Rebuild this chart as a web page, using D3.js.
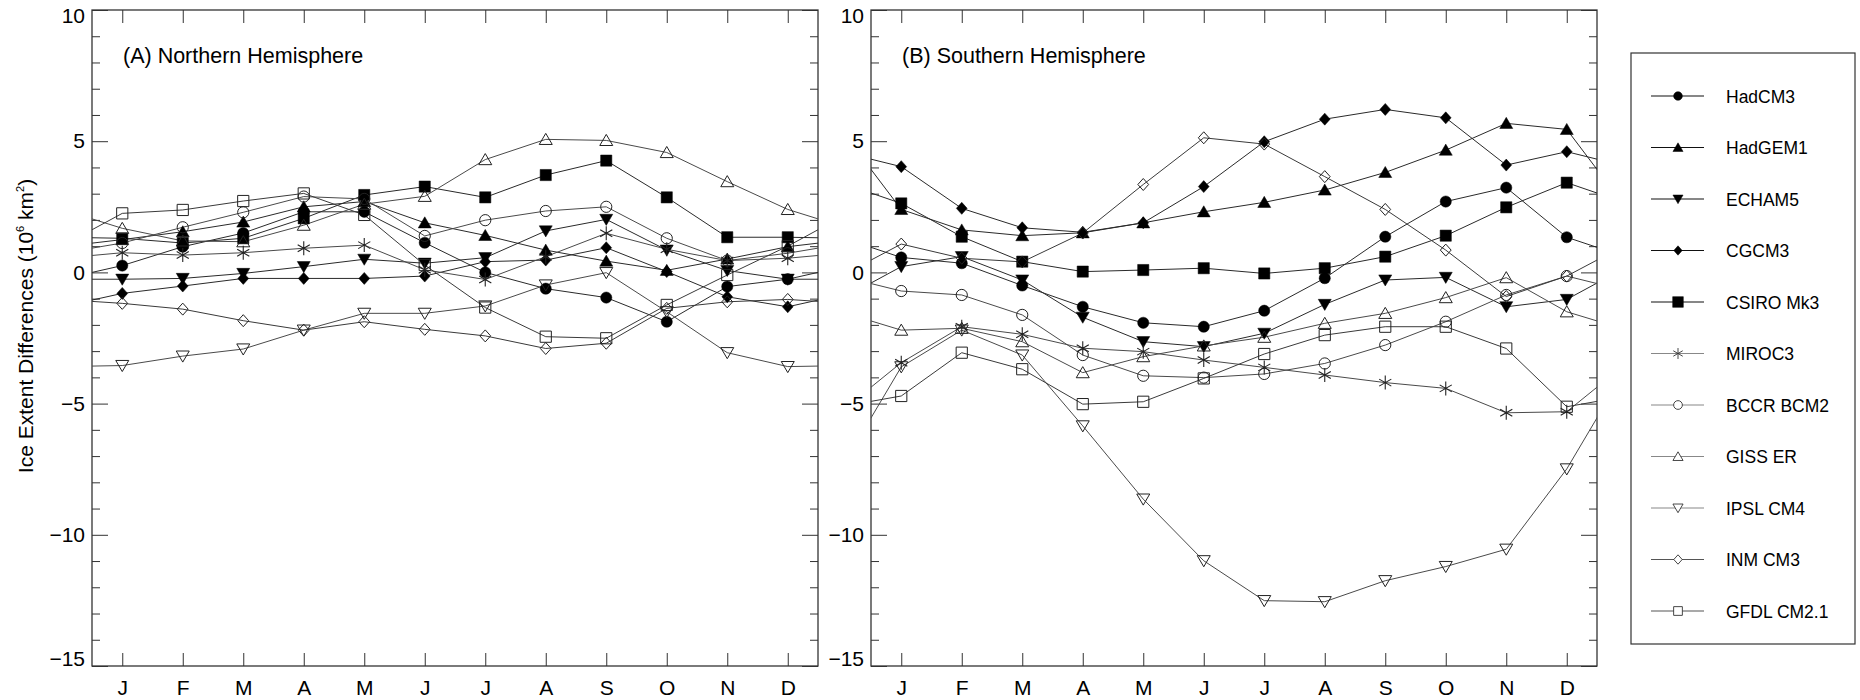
<!DOCTYPE html>
<html><head><meta charset="utf-8">
<script src="https://cdn.jsdelivr.net/npm/d3@7"></script>
<style>
body{margin:0;background:#fff}
text{font-family:"Liberation Sans",Arial,Helvetica,sans-serif;fill:#000}
</style>
</head><body>
<svg id="chart" width="1860" height="700"></svg>
<script>
// ---------- data ----------
const months = ["J","F","M","A","M","J","J","A","S","O","N","D"];
const models = ["HadCM3","HadGEM1","ECHAM5","CGCM3","CSIRO Mk3","MIROC3","BCCR BCM2","GISS ER","IPSL CM4","INM CM3","GFDL CM2.1"];
const yMajorTicks = [-15,-10,-5,0,5,10];
const panelTitles = ["(A) Northern Hemisphere","(B) Southern Hemisphere"];

// Northern Hemisphere (10^6 km^2), Jan..Dec
const nhHadCM3  = [0.26,0.98,1.5,2.31,2.31,1.13,0.0,-0.62,-0.96,-1.88,-0.54,-0.26];
const nhHadGEM1 = [1.25,1.55,1.92,2.5,2.7,1.89,1.41,0.85,0.43,0.08,0.51,0.98];
const nhECHAM5  = [-0.26,-0.23,-0.04,0.22,0.5,0.35,0.56,1.58,2.02,0.85,0.07,-0.26];
const nhCGCM3   = [-0.8,-0.52,-0.23,-0.23,-0.23,-0.14,0.41,0.47,0.94,0.03,-0.93,-1.31];
const nhCSIRO   = [1.3,1.12,1.3,2.06,2.95,3.27,2.86,3.71,4.26,2.86,1.34,1.34];
const nhMIROC3  = [0.75,0.66,0.75,0.92,1.04,0.1,-0.27,0.6,1.49,0.88,0.45,0.54];
const nhBCCR    = [1.12,1.72,2.29,2.89,2.8,1.39,1.99,2.34,2.5,1.3,0.45,0.73];
const nhGISS    = [1.68,1.2,1.17,1.8,2.6,2.9,4.3,5.07,5.03,4.57,3.46,2.4];
const nhIPSL    = [-3.55,-3.19,-2.92,-2.2,-1.56,-1.56,-1.28,-0.48,-0.01,-1.5,-3.06,-3.59];
const nhINM     = [-1.18,-1.4,-1.84,-2.2,-1.88,-2.17,-2.42,-2.9,-2.7,-1.37,-1.12,-1.03];
const nhGFDL    = [2.25,2.38,2.72,3.01,2.19,0.28,-1.34,-2.45,-2.51,-1.24,-0.1,1.0];

// Southern Hemisphere (10^6 km^2), Jan..Dec
const shHadCM3  = [0.57,0.35,-0.5,-1.31,-1.92,-2.07,-1.46,-0.22,1.36,2.7,3.23,1.34];
const shHadGEM1 = [2.4,1.62,1.4,1.51,1.89,2.31,2.67,3.14,3.81,4.66,5.68,5.45];
const shECHAM5  = [0.22,0.6,-0.29,-1.71,-2.64,-2.83,-2.32,-1.22,-0.29,-0.19,-1.31,-1.03];
const shCGCM3   = [4.03,2.44,1.7,1.53,1.89,3.27,4.98,5.84,6.21,5.89,4.09,4.6];
const shCSIRO   = [2.63,1.36,0.41,0.03,0.09,0.16,-0.04,0.16,0.6,1.4,2.48,3.42];
const shMIROC3  = [-3.44,-2.07,-2.36,-2.89,-3.02,-3.34,-3.62,-3.91,-4.2,-4.42,-5.35,-5.31];
const shBCCR    = [-0.71,-0.86,-1.62,-3.15,-3.94,-4.01,-3.87,-3.47,-2.77,-1.88,-0.86,-0.14];
const shGISS    = [-2.2,-2.13,-2.64,-3.82,-3.21,-2.8,-2.47,-1.94,-1.56,-0.96,-0.2,-1.5];
const shIPSL    = [-3.6,-2.2,-3.15,-5.85,-8.64,-10.99,-12.51,-12.55,-11.75,-11.21,-10.55,-7.49];
const shINM     = [1.08,0.54,0.4,1.5,3.35,5.13,4.89,3.65,2.4,0.85,-0.92,-0.14];
const shGFDL    = [-4.71,-3.06,-3.69,-5.02,-4.93,-4.04,-3.11,-2.39,-2.07,-2.07,-2.9,-5.12];

const nhSeries = [nhHadCM3,nhHadGEM1,nhECHAM5,nhCGCM3,nhCSIRO,nhMIROC3,nhBCCR,nhGISS,nhIPSL,nhINM,nhGFDL];
const shSeries = [shHadCM3,shHadGEM1,shECHAM5,shCGCM3,shCSIRO,shMIROC3,shBCCR,shGISS,shIPSL,shINM,shGFDL];

// ---------- styles ----------
const markerTypes = ["circle","triUp","triDown","diamond","square","asterisk","circle","triUp","triDown","diamond","square"];
const markerFilled = [true,true,true,true,true,false,false,false,false,false,false];
const lineColors = ["#2a2a2a","#2a2a2a","#2a2a2a","#2a2a2a","#2a2a2a","#4a4a4a","#4a4a4a","#4a4a4a","#4a4a4a","#3a3a3a","#3a3a3a"];
const legendLineColors = ["#111","#111","#111","#111","#111","#888","#888","#888","#888","#555","#555"];

function markerPath(type, s){
  if(type==="circle"){const r=5.6*s;return `M${-r},0A${r},${r} 0 1,0 ${r},0A${r},${r} 0 1,0 ${-r},0Z`;}
  if(type==="square"){const a=5.6*s;return `M${-a},${-a}H${a}V${a}H${-a}Z`;}
  if(type==="triUp"){const w=6.5*s,h=6*s;return `M0,${-h}L${w},${h*0.85}L${-w},${h*0.85}Z`;}
  if(type==="triDown"){const w=6.5*s,h=6*s;return `M0,${h}L${w},${-h*0.85}L${-w},${-h*0.85}Z`;}
  if(type==="diamond"){const w=5.4*s,h=6*s;return `M0,${-h}L${w},0L0,${h}L${-w},0Z`;}
  if(type==="asterisk"){const r=7*s;let p="";
    [90,30,150].forEach(a=>{const rad=a*Math.PI/180,dx=r*Math.cos(rad),dy=r*Math.sin(rad);
      p+=`M${-dx},${-dy}L${dx},${dy}`;});return p;}
}

const svg = d3.select("#chart");
const yTop = 10, yBot = 666;
const panels = [
  {x0:92, x1:818, data:nhSeries, title:panelTitles[0]},
  {x0:871, x1:1597, data:shSeries, title:panelTitles[1]}
];
const y = d3.scaleLinear().domain([-15,10]).range([yBot,yTop]);
const minorTicks = d3.range(-15,11,1).filter(v=>v%5!==0);

panels.forEach((p,pi)=>{
  const x = d3.scaleLinear().domain([0.5,12.5]).range([p.x0,p.x1]);
  const g = svg.append("g");
  const clipId = "clip"+pi;
  svg.append("clipPath").attr("id",clipId).append("rect")
    .attr("x",p.x0).attr("y",yTop).attr("width",p.x1-p.x0).attr("height",yBot-yTop);

  const axL = g.append("g").attr("transform",`translate(${p.x0},0)`)
    .call(d3.axisLeft(y).tickValues(yMajorTicks).tickSizeInner(-16).tickSizeOuter(0).tickPadding(7).tickFormat(d3.format("d")));
  axL.selectAll("text").attr("font-size",21)
    .attr("transform",d=> d===10 ? "translate(0,6)" : d===-15 ? "translate(0,-7)" : null);
  g.append("g").attr("transform",`translate(${p.x0},0)`)
    .call(d3.axisLeft(y).tickValues(minorTicks).tickSizeInner(-8).tickSizeOuter(0).tickFormat(""));
  g.append("g").attr("transform",`translate(${p.x1},0)`)
    .call(d3.axisRight(y).tickValues(yMajorTicks).tickSizeInner(-16).tickSizeOuter(0).tickFormat(""));
  g.append("g").attr("transform",`translate(${p.x1},0)`)
    .call(d3.axisRight(y).tickValues(minorTicks).tickSizeInner(-8).tickSizeOuter(0).tickFormat(""));
  const axB = g.append("g").attr("transform",`translate(0,${yBot})`)
    .call(d3.axisBottom(x).tickValues(d3.range(1,13)).tickSizeInner(-13).tickSizeOuter(0).tickPadding(14).tickFormat((d,i)=>months[i]));
  axB.selectAll("text").attr("font-size",21);
  g.append("g").attr("transform",`translate(0,${yTop})`)
    .call(d3.axisTop(x).tickValues(d3.range(1,13)).tickSizeInner(-13).tickSizeOuter(0).tickFormat(""));
  g.selectAll(".domain").remove();
  g.selectAll(".tick line").attr("stroke","#333").attr("stroke-width",1);

  g.append("rect").attr("x",p.x0).attr("y",yTop).attr("width",p.x1-p.x0).attr("height",yBot-yTop)
    .attr("fill","none").attr("stroke","#333").attr("stroke-width",1.3);

  g.append("text").attr("x",p.x0+31).attr("y",63).attr("font-size",21.5).text(p.title);

  const line = d3.line().x(d=>x(d.m)).y(d=>y(d.v));
  const lg = g.append("g").attr("clip-path",`url(#${clipId})`);
  p.data.forEach((vals,si)=>{
    const pts = [{m:0,v:vals[11]}].concat(vals.map((v,i)=>({m:i+1,v}))).concat([{m:13,v:vals[0]}]);
    lg.append("path").attr("d",line(pts)).attr("fill","none")
      .attr("stroke",lineColors[si]).attr("stroke-width",1);
  });
  p.data.forEach((vals,si)=>{
    const t = markerTypes[si], f = markerFilled[si];
    g.append("g").selectAll("path").data(vals).join("path")
      .attr("transform",(v,i)=>`translate(${x(i+1)},${y(v)})`)
      .attr("d",markerPath(t,1))
      .attr("fill", f ? "#000" : "none")
      .attr("stroke", f ? "#000" : "#222")
      .attr("stroke-width", f ? 0.5 : (t==="asterisk" ? 1.1 : 1));
  });
});

// y-axis label
const yl = svg.append("text").attr("transform","translate(33,326) rotate(-90)")
  .attr("text-anchor","middle").attr("font-size",21);
yl.append("tspan").text("Ice Extent Differences (10");
yl.append("tspan").attr("font-size",11).attr("dy",-9).text("6");
yl.append("tspan").attr("dy",9).text(" km");
yl.append("tspan").attr("font-size",11).attr("dy",-9).text("2");
yl.append("tspan").attr("dy",9).text(")");

// legend
const lgd = svg.append("g");
lgd.append("rect").attr("x",1631).attr("y",53).attr("width",224).attr("height",591)
  .attr("fill","none").attr("stroke","#333").attr("stroke-width",1.2);
const legY = d3.scaleLinear().domain([0,models.length-1]).range([96,611]);
models.forEach((m,i)=>{
  const yy = legY(i);
  lgd.append("line").attr("x1",1651).attr("x2",1704).attr("y1",yy).attr("y2",yy)
    .attr("stroke",legendLineColors[i]).attr("stroke-width",1.2);
  const t = markerTypes[i], f = markerFilled[i];
  lgd.append("path").attr("transform",`translate(1678,${yy})`)
    .attr("d",markerPath(t, t==="square" && f ? 0.95 : 0.78))
    .attr("fill", f ? "#000" : "#fff")
    .attr("stroke", f ? "#000" : "#333").attr("stroke-width", f ? 0.5 : 0.9);
  lgd.append("text").attr("x",1726).attr("y",yy+6.5).attr("font-size",17.5).text(m);
});
</script>
</body></html>
